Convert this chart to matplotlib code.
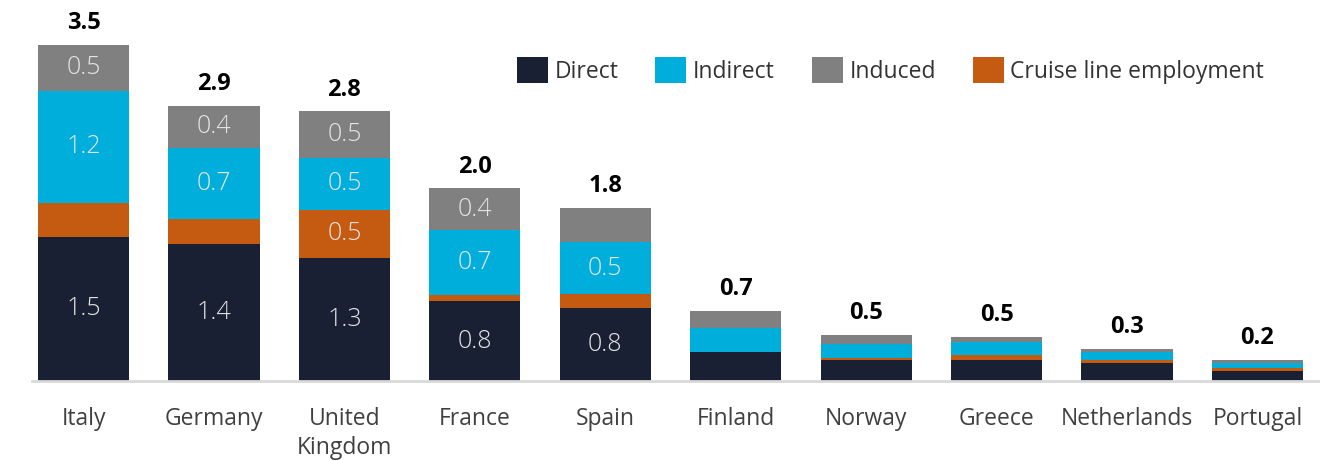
import matplotlib
matplotlib.use("Agg")
import matplotlib.pyplot as plt
import numpy as np

plt.rcParams['font.family'] = ['Open Sans', 'DejaVu Sans']

paises = ["Italy", "Germany", "United\nKingdom", "France", "Spain",
          "Finland", "Norway", "Greece", "Netherlands", "Portugal"]
direct = [1.50, 1.42, 1.28, 0.83, 0.76, 0.30, 0.22, 0.22, 0.19, 0.10]
cruise = [0.35, 0.26, 0.50, 0.06, 0.14, 0.00, 0.02, 0.05, 0.03, 0.03]
indirect = [1.16, 0.74, 0.54, 0.68, 0.54, 0.25, 0.14, 0.13, 0.08, 0.06]
induced = [0.48, 0.44, 0.48, 0.43, 0.36, 0.18, 0.10, 0.06, 0.03, 0.03]

cores = {"Direct": "#1a2033", "Indirect": "#00aedb",
         "Induced": "#808080", "Cruise line employment": "#c55a11"}

fig = plt.figure(figsize=(13.35, 4.61), dpi=100)
ax = fig.add_axes([32/1335, 80/461, 1286/1335, 375.6/461])

x = np.arange(len(paises))
w = 0.7
base = np.zeros(len(paises))
barras = {}
# ordem de empilhamento: direct, cruise, indirect, induced
for nome, vals in [("Direct", direct), ("Cruise line employment", cruise),
                   ("Indirect", indirect), ("Induced", induced)]:
    vals = np.array(vals)
    b = ax.bar(x, vals, w, bottom=base, color=cores[nome], label=nome)
    barras[nome] = b
    for i, v in enumerate(vals):
        if v >= 0.4:
            ax.text(x[i], base[i] + v/2, f"{v:.1f}", ha='center', va='center',
                    fontsize=18, color='#e4e4e4', fontweight='light')
    base = base + vals

for i, t in enumerate(base):
    ax.annotate(f"{t:.1f}", (x[i], t), xytext=(0, 7), textcoords='offset points',
                ha='center', va='bottom', fontsize=17, fontweight='bold', color='black')

ax.set_xlim(-0.395, 9.464)
ax.set_ylim(0, 3.9)
ax.set_xticks(x)
ax.set_xticklabels(paises, fontsize=16.5, color='#404040', linespacing=1.25)
ax.tick_params(axis='x', length=0, pad=19)
ax.set_yticks([])
for s in ['top', 'left', 'right']:
    ax.spines[s].set_visible(False)
ax.spines['bottom'].set_color('#d9d9d9')
ax.spines['bottom'].set_linewidth(2)

ordem = ["Direct", "Indirect", "Induced", "Cruise line employment"]
fig.legend([barras[n] for n in ordem], ordem, loc='center left',
           bbox_to_anchor=(517/1335, 1 - 70.5/461), ncol=4, frameon=False,
           fontsize=16.5, borderpad=0, borderaxespad=0,
           handlelength=1.35, handleheight=1.35, handletextpad=0.3,
           columnspacing=1.6, labelcolor='#333333')

plt.savefig('out.png', dpi=100)
